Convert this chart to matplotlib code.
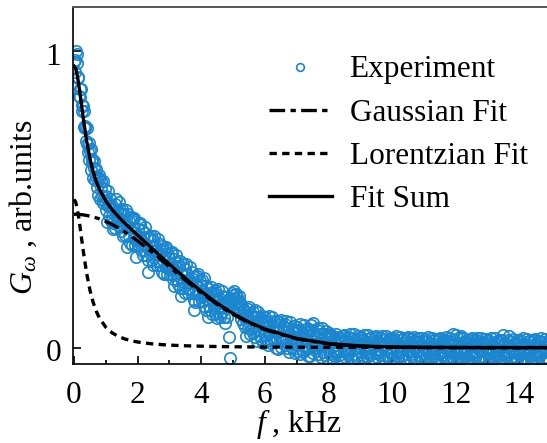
import numpy as np
import matplotlib
matplotlib.use("Agg")
import matplotlib.pyplot as plt
from matplotlib.transforms import ScaledTranslation

plt.rcParams['font.family'] = ['Liberation Serif', 'DejaVu Serif']
plt.rcParams['mathtext.fontset'] = 'custom'
plt.rcParams['mathtext.rm'] = 'Liberation Serif'
plt.rcParams['mathtext.it'] = 'Liberation Serif:italic'

# ---- Experimental spectrum (uniform frequency bins, step 0.02 kHz) ----
freq_step = 0.02
g_exp = [
    0.962, 0.931, 0.969, 1.000, 0.960, 0.990, 0.908, 0.913, 0.850, 0.871,
    0.845, 0.871, 0.798, 0.817, 0.815, 0.743, 0.797, 0.740, 0.747, 0.698,
    0.741, 0.687, 0.661, 0.692, 0.633, 0.665, 0.670, 0.598, 0.625, 0.637,
    0.573, 0.605, 0.630, 0.567, 0.576, 0.603, 0.541, 0.575, 0.514, 0.581,
    0.568, 0.500, 0.543, 0.563, 0.511, 0.563, 0.487, 0.507, 0.536, 0.492,
    0.513, 0.465, 0.425, 0.477, 0.528, 0.444, 0.477, 0.501, 0.426, 0.477,
    0.445, 0.400, 0.420, 0.468, 0.485, 0.403, 0.500, 0.438, 0.466, 0.413,
    0.491, 0.429, 0.407, 0.465, 0.393, 0.450, 0.468, 0.376, 0.424, 0.452,
    0.380, 0.428, 0.466, 0.340, 0.412, 0.450, 0.378, 0.426, 0.354, 0.442,
    0.429, 0.347, 0.405, 0.433, 0.371, 0.439, 0.347, 0.375, 0.307, 0.362,
    0.400, 0.348, 0.416, 0.364, 0.422, 0.330, 0.368, 0.396, 0.314, 0.372,
    0.330, 0.388, 0.406, 0.314, 0.372, 0.340, 0.256, 0.296, 0.374, 0.342,
    0.320, 0.378, 0.296, 0.344, 0.362, 0.280, 0.378, 0.316, 0.344, 0.292,
    0.280, 0.328, 0.366, 0.294, 0.312, 0.350, 0.278, 0.326, 0.254, 0.343,
    0.331, 0.249, 0.307, 0.335, 0.273, 0.341, 0.249, 0.278, 0.316, 0.264,
    0.302, 0.250, 0.318, 0.266, 0.324, 0.232, 0.271, 0.299, 0.207, 0.275,
    0.313, 0.251, 0.229, 0.287, 0.215, 0.273, 0.292, 0.200, 0.248, 0.176,
    0.224, 0.282, 0.200, 0.248, 0.266, 0.184, 0.283, 0.221, 0.249, 0.197,
    0.185, 0.233, 0.272, 0.200, 0.218, 0.256, 0.184, 0.233, 0.161, 0.127,
    0.237, 0.155, 0.214, 0.242, 0.180, 0.249, 0.157, 0.185, 0.224, 0.172,
    0.210, 0.158, 0.227, 0.175, 0.234, 0.142, 0.180, 0.209, 0.127, 0.185,
    0.105, 0.162, 0.140, 0.199, 0.127, 0.186, 0.204, 0.113, 0.161, 0.189,
    0.137, 0.196, 0.114, 0.163, 0.181, 0.100, 0.199, 0.137, 0.166, 0.114,
    0.103, 0.151, 0.190, 0.119, 0.137, 0.176, 0.105, 0.153, 0.082, 0.171,
    0.151, 0.103, 0.142, 0.037, 0.158, -0.035, 0.168, 0.141, 0.185, 0.162,
    0.178, 0.150, 0.192, 0.163, 0.140, 0.181, 0.155, 0.170, 0.132, 0.176,
    0.158, 0.121, 0.149, 0.098, 0.137, 0.115, 0.084, 0.126, 0.102, 0.071,
    0.122, 0.041, 0.100, 0.129, 0.068, 0.137, 0.046, 0.075, 0.114, 0.063,
    0.102, 0.051, 0.120, 0.069, 0.128, 0.037, 0.076, 0.105, 0.024, 0.083,
    0.122, 0.061, 0.040, 0.099, 0.028, 0.087, 0.106, 0.015, 0.065, 0.094,
    0.043, 0.102, 0.022, 0.071, 0.090, 0.010, 0.108, 0.048, 0.077, 0.026,
    0.015, 0.064, 0.103, 0.033, 0.052, 0.091, 0.021, 0.070, -0.001, 0.089,
    0.078, -0.003, 0.057, 0.086, 0.025, 0.094, 0.004, 0.034, 0.073, 0.022,
    0.061, 0.010, 0.080, 0.030, 0.089, -0.001, 0.039, 0.068, -0.013, 0.046,
    0.086, 0.025, 0.004, 0.064, -0.006, 0.053, 0.073, -0.018, 0.032, 0.061,
    0.011, 0.070, -0.010, 0.040, 0.059, -0.021, 0.079, 0.019, 0.048, -0.003,
    -0.014, 0.035, 0.075, 0.005, 0.024, 0.064, -0.006, 0.043, -0.027, 0.063,
    0.052, -0.028, 0.077, 0.061, 0.001, 0.082, -0.019, 0.011, 0.050, 0.000,
    0.039, -0.011, 0.058, 0.008, 0.068, -0.022, 0.017, 0.047, -0.033, 0.026,
    0.066, 0.006, -0.015, 0.045, -0.025, 0.035, 0.055, -0.035, 0.014, 0.044,
    0.012, 0.051, -0.021, 0.030, 0.043, -0.034, 0.040, 0.005, 0.026, -0.016,
    -0.028, 0.019, 0.047, -0.010, 0.008, 0.037, -0.024, 0.024, -0.038, 0.034,
    0.030, -0.036, 0.015, 0.041, -0.012, 0.044, -0.030, -0.002, 0.028, -0.017,
    0.021, -0.024, 0.036, -0.005, 0.045, -0.033, 0.004, 0.029, -0.040, 0.013,
    0.046, -0.004, -0.022, 0.027, -0.032, 0.020, 0.039, -0.039, 0.006, 0.031,
    -0.015, 0.037, -0.033, 0.012, 0.025, -0.041, 0.043, -0.006, 0.019, -0.027,
    -0.031, 0.010, 0.042, -0.014, 0.002, 0.033, -0.025, 0.018, -0.037, 0.035,
    0.027, -0.040, 0.011, 0.035, -0.017, 0.040, -0.032, -0.007, 0.024, -0.019,
    0.016, -0.026, 0.032, -0.008, 0.041, -0.035, 0.001, 0.025, -0.039, 0.010,
    0.038, -0.005, -0.024, 0.022, -0.034, 0.017, 0.034, -0.041, 0.004, 0.027,
    -0.018, 0.033, -0.036, 0.009, 0.021, -0.040, 0.038, -0.009, 0.015, -0.029,
    -0.033, 0.007, 0.037, -0.016, 0.000, 0.029, -0.027, 0.015, -0.038, 0.031,
    0.024, -0.039, 0.008, 0.031, -0.020, 0.036, -0.034, -0.010, 0.020, -0.021,
    0.013, -0.028, 0.029, -0.011, 0.037, -0.037, -0.002, 0.022, -0.040, 0.007,
    0.034, -0.008, -0.026, 0.019, -0.035, 0.014, 0.031, -0.041, 0.002, 0.024,
    -0.020, 0.030, -0.038, 0.006, 0.018, -0.041, 0.035, -0.012, 0.012, -0.031,
    -0.035, 0.004, 0.034, -0.018, -0.002, 0.026, -0.029, 0.012, -0.039, 0.028,
    0.021, -0.040, 0.006, 0.029, -0.022, 0.033, -0.035, -0.012, 0.018, -0.023,
    0.011, -0.030, 0.027, -0.013, 0.035, -0.038, -0.004, 0.020, -0.041, 0.005,
    0.032, -0.010, -0.027, 0.017, -0.036, 0.047, 0.029, -0.041, 0.000, 0.022,
    -0.021, 0.044, -0.038, 0.005, 0.016, -0.041, 0.033, -0.013, 0.040, -0.032,
    -0.036, 0.003, 0.032, -0.019, -0.003, 0.024, -0.030, 0.011, -0.040, 0.027,
    0.020, -0.040, 0.005, 0.028, -0.023, 0.032, -0.036, -0.013, 0.017, -0.024,
    0.010, -0.031, 0.026, -0.014, 0.034, -0.039, -0.005, 0.019, -0.041, 0.004,
    0.031, -0.011, -0.028, 0.016, -0.037, 0.011, 0.028, -0.041, -0.001, 0.021,
    -0.022, 0.027, -0.039, 0.004, 0.015, -0.041, 0.032, -0.014, 0.009, -0.033,
    -0.036, 0.002, 0.031, -0.020, -0.004, 0.023, -0.031, 0.010, -0.040, 0.026,
    0.019, -0.040, 0.004, 0.027, -0.024, 0.042, -0.036, -0.014, 0.016, -0.025,
    0.009, -0.032, 0.025, -0.015, 0.039, -0.039, -0.006, 0.018, -0.041, 0.003,
    0.030, -0.012, -0.029, 0.015, -0.037, 0.010, 0.027, -0.041, -0.002, 0.020,
    -0.023, 0.026, -0.039, 0.003, 0.014, -0.041, 0.031, -0.015, 0.008, -0.034,
    -0.037, 0.001, 0.030, -0.021, -0.005, 0.022, -0.032, 0.009, -0.040, 0.025,
    0.018, -0.040, 0.003, 0.026, -0.025, 0.030, -0.037, -0.015, 0.015, -0.026,
    0.008, -0.033, 0.024, -0.016, 0.032, -0.040, -0.007, 0.017, -0.041, 0.002,
    0.029, -0.013, -0.030, 0.014, -0.038, 0.009, 0.026, -0.041, -0.003, 0.019,
]
freq_exp = np.arange(len(g_exp)) * freq_step

# ---- Fit curves (values read at the listed frequencies, kHz) ----
freq_fit = [0, 0.05, 0.1, 0.15, 0.2, 0.25, 0.3, 0.4, 0.5, 0.6, 0.7, 0.8,
            1.0, 1.2, 1.4, 1.6, 1.8, 2.0, 2.4, 2.8, 3.2, 3.6, 4.0, 4.5,
            5.0, 5.5, 6.0, 7.0, 8.0, 9.0, 10, 11, 12, 13, 14, 15]
g_gauss = [0.450, 0.450, 0.4498, 0.4494, 0.4490, 0.4484, 0.4478, 0.4460,
           0.4438, 0.4411, 0.4379, 0.4343, 0.4257, 0.4154, 0.4036, 0.3903,
           0.3759, 0.3604, 0.3268, 0.2911, 0.2548, 0.2190, 0.1850, 0.1461,
           0.1122, 0.0838, 0.0609, 0.0296, 0.0128, 0.0050, 0.0017, 0.0005,
           0.0002, 0.0, 0.0, 0.0]
g_lorentz = [0.500, 0.4923, 0.4706, 0.4384, 0.4000, 0.3596, 0.3200, 0.2500,
             0.1951, 0.1538, 0.1231, 0.1000, 0.0690, 0.0500, 0.0377, 0.0294,
             0.0235, 0.0192, 0.0135, 0.0100, 0.0077, 0.0061, 0.0050, 0.0039,
             0.0032, 0.0026, 0.0022, 0.0016, 0.0013, 0.0010, 0.0008, 0.0007,
             0.0006, 0.0005, 0.0004, 0.0004]
g_sum = [0.950, 0.9423, 0.9204, 0.8878, 0.8490, 0.8080, 0.7678, 0.6960,
         0.6389, 0.5949, 0.5610, 0.5343, 0.4947, 0.4654, 0.4413, 0.4197,
         0.3994, 0.3796, 0.3403, 0.3011, 0.2625, 0.2251, 0.1900, 0.1500,
         0.1154, 0.0864, 0.0631, 0.0312, 0.0141, 0.0060, 0.0025, 0.0012,
         0.0008, 0.0005, 0.0004, 0.0004]

xticks = [0, 2, 4, 6, 8, 10, 12, 14]
xminor = [1, 3, 5, 7, 9, 11, 13]
yticks = [0, 1]

W, H, DPI = 547, 443, 100
FS = 22.5
fig = plt.figure(figsize=(W / DPI, H / DPI), dpi=DPI)
ax = fig.add_axes([72.7 / W, (H - 364) / H, (W - 72.7) / W, (364 - 6.7) / H])

blue = '#1A86D0'
ax.plot(freq_exp, g_exp, linestyle='none', marker='o', markersize=8.2,
        markerfacecolor='none', markeredgecolor=blue, markeredgewidth=1.2,
        label='Experiment', zorder=2)
ax.plot(freq_fit, g_gauss, color='black', lw=2.4,
        dashes=(4.7, 1.6, 1.6, 1.6), label='Gaussian Fit', zorder=3)
ax.plot(freq_fit, g_lorentz, color='black', lw=2.4,
        dashes=(2.2, 1.6), label='Lorentzian Fit', zorder=3)
ax.plot(freq_fit, g_sum, color='black', lw=2.4, label='Fit Sum', zorder=4)

ax.set_xlim(-0.04, 14.87)
ax.set_ylim(-0.055, 1.15)
ax.set_xticks(xticks)
ax.set_xticks(xminor, minor=True)
ax.set_yticks(yticks)
ax.tick_params(axis='both', which='major', direction='in', length=5.8,
               width=1.2, labelsize=FS)
ax.tick_params(axis='x', which='minor', direction='in', length=3.2, width=1.2)
ax.tick_params(axis='x', pad=12)
ax.tick_params(axis='y', pad=8.5)
for lab in ax.get_yticklabels():
    lab.set_transform(lab.get_transform() + ScaledTranslation(0, -0.025, fig.dpi_scale_trans))

ax.spines['right'].set_visible(False)
ax.spines['top'].set_color('#555555')
ax.spines['top'].set_linewidth(1.4)
ax.spines['left'].set_linewidth(1.2)
ax.spines['bottom'].set_linewidth(1.2)

ax.set_xlabel(r'$f\;$, kHz', fontsize=FS + 0.5)
ax.xaxis.set_label_coords((299 - 72.7) / (W - 72.7), -(424 - 364) / (364 - 6.7), transform=ax.transAxes)
ax.xaxis.label.set_va('center')
ax.set_ylabel(r'$G_{\omega}$ , arb.units', fontsize=FS + 0.5)
ax.yaxis.set_label_coords(-(72.7 - 23) / (W - 72.7), (364 - 207.5) / (364 - 6.7), transform=ax.transAxes)
ax.yaxis.label.set_va('center')

leg = ax.legend(loc='upper left', bbox_to_anchor=((269 - 72.7) / (W - 72.7), 1 - (55.5 - 6.7) / (364 - 6.7)),
                frameon=False, fontsize=FS, handlelength=2.0, handletextpad=0.58,
                labelspacing=0.45, markerscale=0.68, borderaxespad=0, borderpad=0)

fig.savefig('out.png', dpi=DPI)
